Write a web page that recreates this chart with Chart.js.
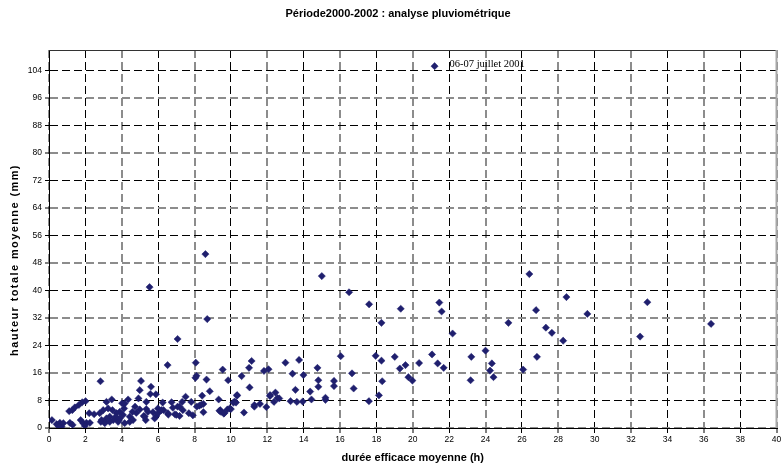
<!DOCTYPE html>
<html>
<head>
<meta charset="utf-8">
<script src="https://cdn.jsdelivr.net/npm/chart.js@4.4.0/dist/chart.umd.min.js"></script>
<style>
  html, body { margin: 0; padding: 0; background: #fff; }
</style>
</head>
<body>
<canvas id="scatterChart" width="781" height="465"></canvas>
<script>
// Data: durée efficace moyenne (h) / hauteur totale moyenne (mm)
var dureeH = [
  21.2, 8.6, 5.53, 8.7, 7.07, 15.0, 16.5, 17.6, 18.28, 19.34, 21.46, 21.59, 22.19, 25.26,
  26.41, 26.78, 27.32, 27.65, 28.27, 28.45, 29.6, 32.5, 32.9, 36.4,
  26.83, 26.07, 24.0, 24.35, 24.25, 24.44, 23.22, 23.18, 21.06, 21.37, 21.7, 20.35, 19.01,
  19.6, 19.29, 19.76, 19.98, 18.28, 18.32, 18.14, 17.96, 17.59, 16.04, 16.66, 16.75, 15.67,
  15.67, 14.76, 14.81, 14.81, 14.36, 14.43, 15.2, 15.2, 13.75, 13.39, 13.99, 13.55, 13.28,
  13.63, 13.95, 13.0, 12.07, 11.82, 12.15, 12.45, 12.56, 12.37, 11.95, 11.6, 11.29, 10.72,
  11.03, 10.59, 11.14, 11.0, 9.85, 9.55, 9.33, 10.34, 10.21, 10.14, 9.94, 9.81, 9.42, 9.61,
  8.84, 8.66, 8.42, 8.49, 8.27, 6.52, 8.07, 8.11, 8.05, 9.37, 2.83, 5.06, 4.99, 5.61, 5.57,
  5.88, 4.92, 5.35, 4.35, 4.02, 3.45, 3.16, 2.01, 1.83, 1.64, 1.42, 1.28, 1.11, 7.51, 7.32,
  7.07, 6.81, 6.74, 6.92, 7.82, 7.91, 8.38, 8.49, 6.25, 6.3, 6.56, 5.99, 5.72, 5.9, 5.35,
  5.26, 4.99, 4.73, 4.8, 4.59, 4.44, 4.13, 4.07, 3.89, 3.71, 3.49, 3.34, 3.25, 2.98, 2.79,
  3.16, 2.89, 3.53, 3.85,
  0.16, 0.42, 0.6, 0.69, 0.79, 0.55, 1.15, 1.3, 1.74, 1.88, 2.06, 2.25, 1.97, 2.21, 2.48,
  2.85, 3.07, 3.34, 3.67, 3.8, 3.89, 4.16, 4.16, 4.44, 4.62, 5.21, 5.32, 5.44, 5.81, 6.0,
  6.18, 6.54, 7.0, 7.18, 7.36, 7.18, 7.69, 8.13, 9.46, 9.64, 10.0, 10.28, 10.34, 11.29,
  12.16, 12.66
];
var hauteurMm = [
  105.3, 50.6, 41.0, 31.7, 25.9, 44.2, 39.5, 36.0, 30.6, 34.7, 36.5, 33.9, 27.5, 30.6,
  44.8, 34.3, 29.2, 27.7, 25.4, 38.1, 33.2, 26.6, 36.6, 30.3,
  20.7, 17.0, 22.5, 18.8, 16.7, 14.8, 20.7, 13.9, 21.4, 18.8, 17.5, 18.9, 20.7,
  18.3, 17.3, 14.8, 13.8, 19.6, 13.6, 9.5, 21.0, 7.8, 20.9, 15.9, 11.5, 13.7,
  12.2, 17.5, 13.9, 12.0, 10.6, 8.3, 8.8, 8.2, 19.8, 15.8, 15.4, 11.1, 7.8,
  7.6, 7.7, 19.0, 17.1, 16.6, 9.3, 10.3, 8.7, 7.6, 6.1, 7.0, 6.2, 4.5,
  11.8, 15.1, 19.5, 17.5, 13.9, 17.0, 8.3, 9.4, 7.7, 7.4, 5.7, 5.4, 5.2, 4.2,
  10.7, 14.1, 9.4, 7.0, 6.5, 18.3, 19.0, 15.2, 14.6, 5.0, 13.6, 13.7, 11.0, 12.0, 9.9,
  9.8, 8.6, 7.6, 8.3, 7.2, 8.3, 7.6, 7.8, 7.5, 6.7, 6.0, 5.2, 4.9, 9.1, 7.6,
  6.2, 5.9, 7.5, 4.0, 7.6, 3.7, 6.8, 4.6, 7.4, 5.2, 3.9, 5.7, 4.6, 3.5, 5.5,
  3.3, 5.4, 6.2, 4.4, 4.7, 3.3, 5.7, 3.8, 4.7, 4.3, 5.2, 3.3, 5.7, 5.2, 4.3,
  2.8, 2.3, 2.3, 2.3,
  2.3, 1.1, 1.5, 0.4, 1.4, 0.4, 1.5, 0.9, 2.3, 1.4, 1.5, 1.5, 0.6, 4.3, 4.0,
  1.8, 1.4, 1.8, 3.3, 1.8, 2.8, 7.1, 1.4, 1.8, 2.3, 3.5, 2.3, 4.7, 2.8, 4.3,
  5.2, 4.3, 3.8, 6.2, 5.2, 3.5, 4.3, 6.2, 4.7, 4.3, 5.5, 7.4, 9.6, 6.7,
  9.6, 8.6
];
var xTicks = [0, 2, 4, 6, 8, 10, 12, 14, 16, 18, 20, 22, 24, 26, 28, 30, 32, 34, 36, 38, 40];
var yTicks = [0, 8, 16, 24, 32, 40, 48, 56, 64, 72, 80, 88, 96, 104];
var chartTitle = "Période2000-2002 : analyse pluviométrique";
var xTitle = "durée efficace moyenne (h)";
var yTitle = "hauteur totale moyenne (mm)";
var noteText = "06-07 juillet 2001";

var points = dureeH.map(function (x, i) { return { x: x, y: hauteurMm[i] }; });

// Frame, titles and the note next to the highest point
var extras = {
  id: 'extras',
  afterDraw: function (chart) {
    var ctx = chart.ctx, a = chart.chartArea;
    ctx.save();
    ctx.strokeStyle = '#333';
    ctx.lineWidth = 1;
    ctx.beginPath();
    ctx.moveTo(a.left, a.top + 0.5);
    ctx.lineTo(a.right, a.top + 0.5);
    ctx.stroke();
    ctx.strokeStyle = '#a8a8a8';
    ctx.lineWidth = 2;
    ctx.beginPath();
    ctx.moveTo(a.right, a.top);
    ctx.lineTo(a.right, a.bottom);
    ctx.stroke();

    ctx.fillStyle = '#000';
    ctx.font = 'bold 11px Arial, "Liberation Sans", sans-serif';
    ctx.textAlign = 'center';
    ctx.textBaseline = 'middle';
    ctx.fillText(chartTitle, 398, 14);

    ctx.translate(15, 260);
    ctx.rotate(-Math.PI / 2);
    ctx.letterSpacing = '1.4px';
    ctx.fillText(yTitle, 0, 0);
    ctx.restore();

    // note
    var top = 0;
    for (var i = 1; i < hauteurMm.length; i++) if (hauteurMm[i] > hauteurMm[top]) top = i;
    var px = chart.scales.x.getPixelForValue(dureeH[top]);
    var py = chart.scales.y.getPixelForValue(hauteurMm[top]);
    ctx.save();
    ctx.fillStyle = '#000';
    ctx.font = '10.5px "Liberation Serif", "Times New Roman", serif';
    ctx.textAlign = 'left';
    ctx.textBaseline = 'middle';
    ctx.fillText(noteText, px + 15, py - 2);
    ctx.restore();
  }
};

function gridColor(step) {
  return function (c) {
    return (c.tick && (c.tick.value / step) % 2 === 0) ? '#8c8c8c' : '#000';
  };
}
function gridWidth(step) {
  return function (c) {
    return (c.tick && (c.tick.value / step) % 2 === 0) ? 2 : 1;
  };
}

var ctx = document.getElementById("scatterChart");
var scatterChart = new Chart(ctx, {
  type: 'scatter',
  data: {
    datasets: [
      {
        label: 'hauteur',
        data: points,
        pointStyle: 'rectRot',
        pointRadius: 3.6,
        backgroundColor: '#1f1f6e',
        borderColor: '#1f1f6e',
        borderWidth: 0.5
      }
    ]
  },
  options: {
    responsive: false,
    animation: false,
    devicePixelRatio: 1,
    layout: { padding: { top: 50, right: 1, left: 0, bottom: 0 } },
    plugins: {
      legend: { display: false },
      tooltip: { enabled: false },
      title: { display: false }
    },
    scales: {
      x: {
        type: 'linear',
        min: 0,
        max: 40,
        afterBuildTicks: function (scale) {
          scale.ticks = xTicks.map(function (v) { return { value: v }; });
        },
        afterFit: function (scale) {
          scale.height = 37;
          scale.paddingRight = 0;
          scale.paddingLeft = 0;
        },
        grid: {
          color: gridColor(2),
          lineWidth: gridWidth(2),
          tickLength: 5,
          tickColor: '#000',
          tickWidth: 1,
          tickBorderDash: []
        },
        border: { display: true, color: '#000', width: 1, dash: [8, 4] },
        ticks: {
          autoSkip: false,
          maxRotation: 0,
          padding: 2,
          color: '#000',
          font: { family: 'Arial, "Liberation Sans", sans-serif', size: 8.5 }
        },
        title: {
          display: true,
          text: xTitle,
          color: '#000',
          padding: { top: 4, bottom: 0 },
          font: { family: 'Arial, "Liberation Sans", sans-serif', size: 11, weight: 'bold' }
        }
      },
      y: {
        type: 'linear',
        min: 0,
        max: 110,
        afterBuildTicks: function (scale) {
          scale.ticks = yTicks.map(function (v) { return { value: v }; });
        },
        afterFit: function (scale) {
          scale.width = 49;
          scale.paddingTop = 0;
          scale.paddingBottom = 0;
        },
        grid: {
          color: gridColor(8),
          lineWidth: gridWidth(8),
          tickLength: 4,
          tickColor: '#000',
          tickWidth: 1,
          tickBorderDash: []
        },
        border: { display: true, color: '#000', width: 1, dash: [8, 4] },
        ticks: {
          autoSkip: false,
          padding: 3,
          color: '#000',
          font: { family: 'Arial, "Liberation Sans", sans-serif', size: 8.5 }
        }
      }
    }
  },
  plugins: [extras]
});
</script>
</body>
</html>
